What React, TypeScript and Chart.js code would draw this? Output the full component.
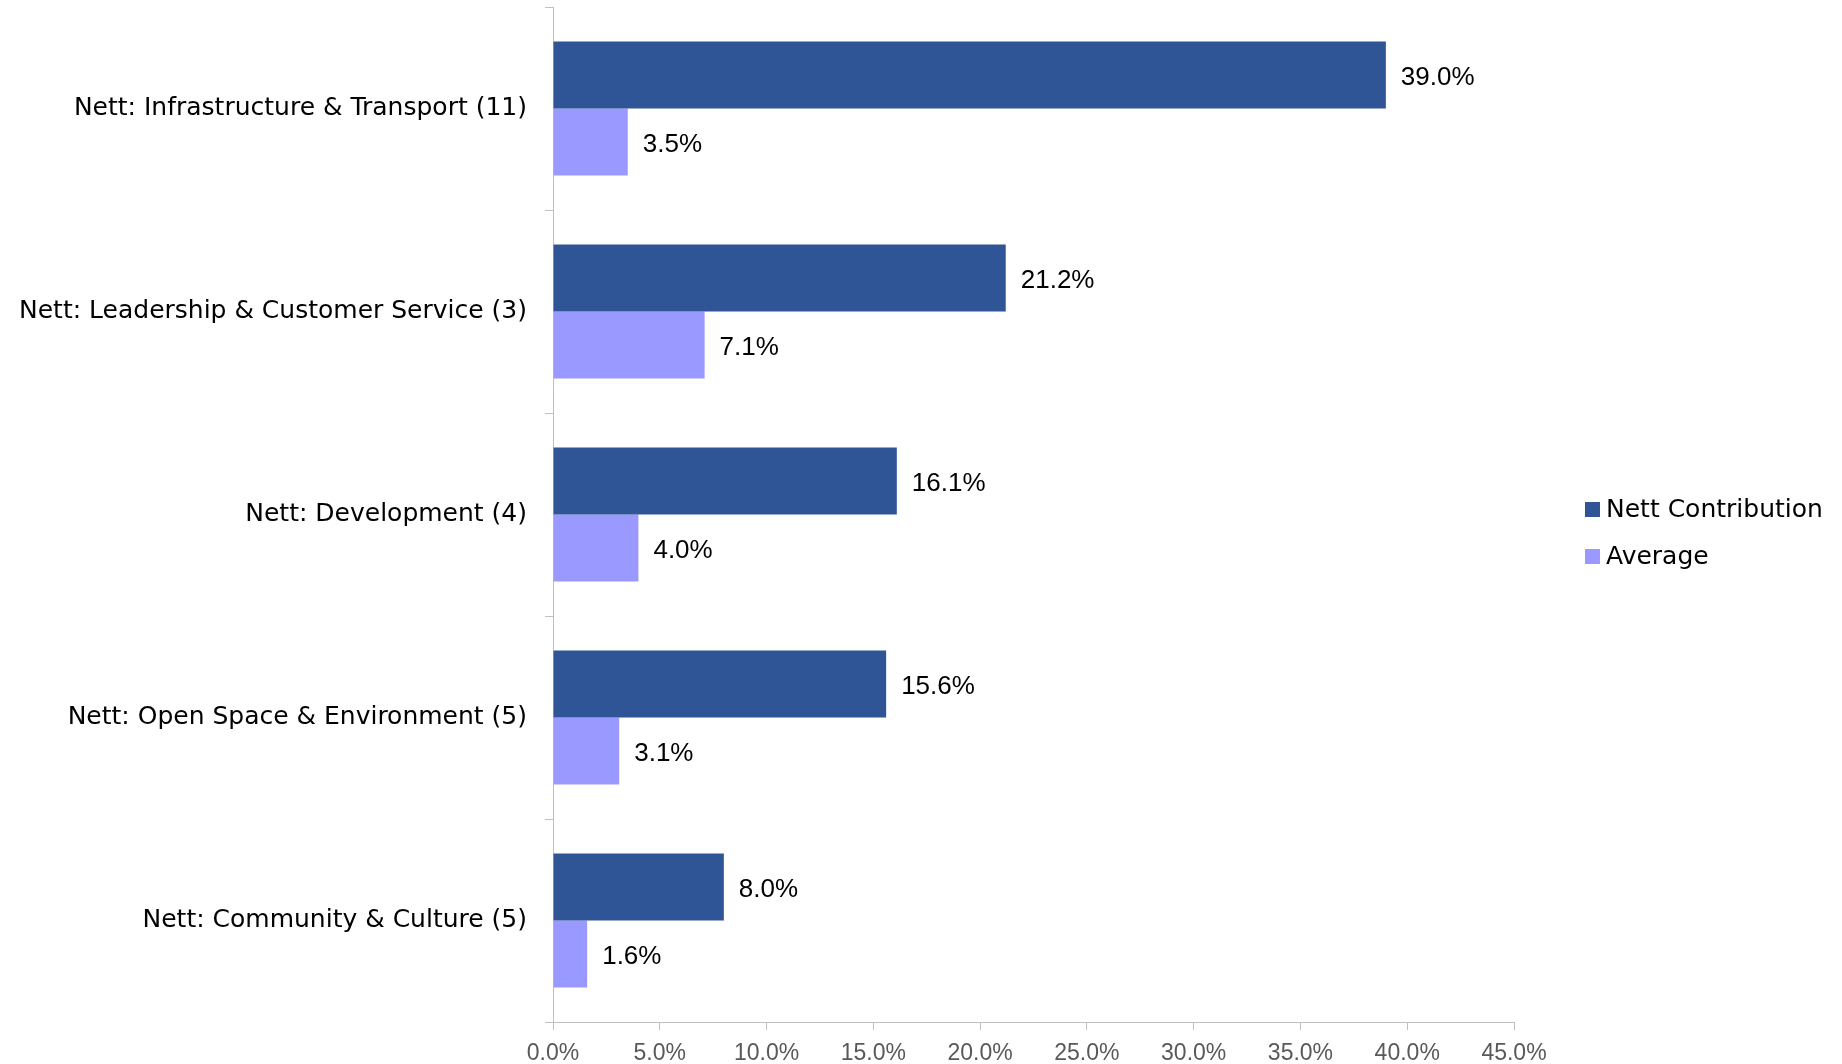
import React, { useEffect, useRef } from "react";
import { Chart, registerables } from "chart.js";

Chart.register(...registerables);

const categories = [
  "Nett: Infrastructure & Transport (11)",
  "Nett: Leadership & Customer Service (3)",
  "Nett: Development (4)",
  "Nett: Open Space & Environment (5)",
  "Nett: Community & Culture (5)",
];
const nettContribution = [39.0, 21.2, 16.1, 15.6, 8.0];
const average = [3.5, 7.1, 4.0, 3.1, 1.6];
const seriesNames = ["Nett Contribution", "Average"];
const seriesColors = ["#2F5597", "#9999FF"];

const FONT = "'Liberation Sans', Arial, sans-serif";
const WIDE = "'DejaVu Sans', 'Liberation Sans', sans-serif";

const valueLabels = {
  id: "valueLabels",
  afterDatasetsDraw(chart: any) {
    const ctx = chart.ctx;
    ctx.save();
    ctx.font = `26px ${FONT}`;
    ctx.fillStyle = "#000000";
    ctx.textAlign = "left";
    ctx.textBaseline = "middle";
    chart.data.datasets.forEach((ds: any, di: number) => {
      const meta = chart.getDatasetMeta(di);
      meta.data.forEach((bar: any, i: number) => {
        const v = ds.data[i] as number;
        ctx.fillText(v.toFixed(1) + "%", bar.x + 15, bar.y + 3);
      });
    });
    ctx.restore();
  },
};

const sideLegend = {
  id: "sideLegend",
  afterDraw(chart: any) {
    const ctx = chart.ctx;
    ctx.save();
    ctx.font = `25px ${WIDE}`;
    ctx.textAlign = "left";
    ctx.textBaseline = "middle";
    const x = 1585;
    const y0 = 509;
    const step = 47;
    chart.data.datasets.forEach((ds: any, i: number) => {
      const y = y0 + i * step;
      ctx.fillStyle = ds.backgroundColor;
      ctx.fillRect(x, y - 7, 15, 15);
      ctx.fillStyle = "#000000";
      ctx.fillText(ds.label, x + 21, y + 1);
    });
    ctx.restore();
  },
};

export default function App() {
  const ref = useRef<HTMLCanvasElement | null>(null);
  useEffect(() => {
    if (!ref.current) return;
    const chart = new Chart(ref.current, {
      type: "bar",
      data: {
        labels: categories,
        datasets: [
          {
            label: seriesNames[0],
            data: nettContribution,
            backgroundColor: seriesColors[0],
            categoryPercentage: 0.66,
            barPercentage: 1.0,
          },
          {
            label: seriesNames[1],
            data: average,
            backgroundColor: seriesColors[1],
            categoryPercentage: 0.66,
            barPercentage: 1.0,
          },
        ],
      },
      options: {
        indexAxis: "y",
        animation: false,
        responsive: false,
        maintainAspectRatio: false,
        layout: { padding: { top: 7, right: 328, left: 0, bottom: 0 } },
        plugins: {
          legend: { display: false },
          tooltip: { enabled: false },
        },
        scales: {
          x: {
            min: 0,
            max: 45,
            ticks: {
              stepSize: 5,
              color: "#595959",
              font: { family: FONT, size: 23 },
              padding: 10,
              callback: (v: any) => Number(v).toFixed(1) + "%",
            },
            grid: {
              drawOnChartArea: false,
              drawTicks: true,
              tickLength: 8,
              color: "#BFBFBF",
            },
            border: { color: "#BFBFBF", width: 1 },
            afterFit: (s: any) => {
              s.height = 42;
              s.paddingLeft = 0;
              s.paddingRight = 0;
            },
          },
          y: {
            offset: true,
            ticks: {
              color: "#000000",
              font: { family: WIDE, size: 25 },
              padding: 18,
            },
            grid: {
              offset: true,
              drawOnChartArea: false,
              drawTicks: true,
              tickLength: 8,
              color: "#BFBFBF",
            },
            border: { color: "#BFBFBF", width: 1 },
            afterFit: (s: any) => {
              s.width = 553;
              s.paddingTop = 0;
              s.paddingBottom = 0;
            },
          },
        },
      },
      plugins: [valueLabels, sideLegend],
    });
    return () => chart.destroy();
  }, []);
  return (
    <div
      style={{
        position: "fixed",
        left: 0,
        top: 0,
        width: 1842,
        height: 1064,
        background: "#ffffff",
      }}
    >
      <canvas ref={ref} width={1842} height={1064} style={{ display: "block" }} />
    </div>
  );
}
